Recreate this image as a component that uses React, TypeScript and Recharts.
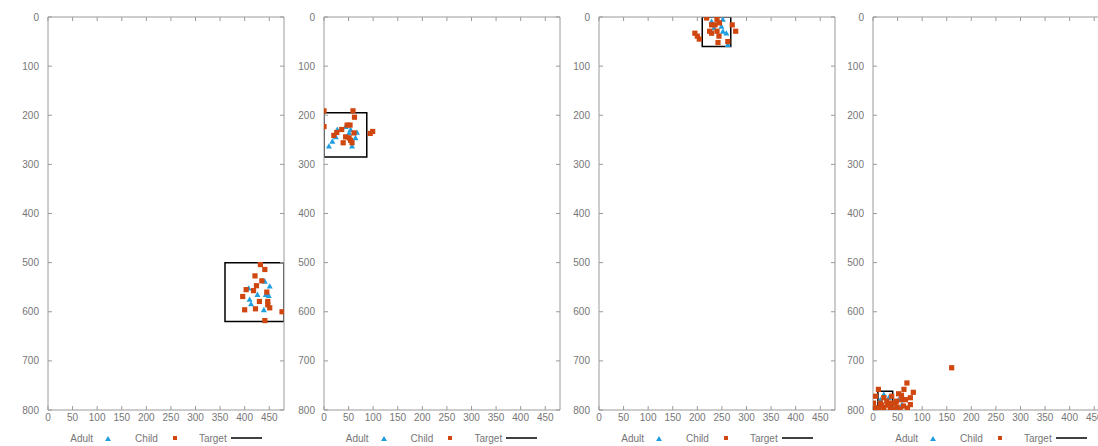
import React from "react"
import { ScatterChart, Scatter, XAxis, YAxis, ReferenceArea, Legend } from "recharts"

type Pt = { x: number; y: number }
type Box = { x1: number; x2: number; y1: number; y2: number }

const ADULT = "#1f9fe0"
const CHILD = "#d0460f"
const AXIS = "#9a9a9a"
const TEXT = "#767676"

const xTicks = [0, 50, 100, 150, 200, 250, 300, 350, 400, 450]
const yTicks = [0, 100, 200, 300, 400, 500, 600, 700, 800]

const toPts = (rows: number[][]): Pt[] => rows.map(([x, y]) => ({ x, y }))

// panel 1
const adult1 = toPts([[441, 538], [451, 548], [408, 552], [426, 565], [443, 565], [449, 567], [410, 575], [413, 584], [439, 596]])
const child1 = toPts([[432, 504], [441, 514], [421, 527], [435, 537], [424, 547], [403, 555], [418, 557], [396, 569], [445, 560], [447, 579], [430, 579], [447, 586], [451, 592], [422, 594], [400, 596], [441, 618], [476, 600]])

// panel 2
const adult2 = toPts([[44, 223], [54, 229], [67, 235], [27, 229], [24, 244], [17, 253], [10, 263], [51, 236], [64, 246], [57, 263]])
const child2 = toPts([[0, 191], [59, 191], [0, 223], [62, 204], [53, 220], [47, 220], [36, 229], [26, 235], [20, 241], [39, 256], [44, 244], [51, 246], [54, 251], [57, 256], [61, 236], [94, 237], [99, 233]])

// panel 3
const adult3 = toPts([[229, 9], [252, 5], [249, 19], [259, 33], [252, 29], [234, 22], [262, 56]])
const child3 = toPts([[219, 2], [240, 5], [236, 16], [229, 16], [225, 29], [240, 29], [229, 33], [195, 33], [200, 39], [204, 45], [244, 39], [242, 52], [262, 50], [271, 16], [278, 29], [245, 12]])

// panel 4
const adult4 = toPts([[22, 768], [32, 775], [52, 779], [59, 789], [15, 779], [45, 796]])
const child4 = toPts([[160, 714], [69, 745], [63, 758], [82, 764], [76, 775], [59, 779], [76, 789], [49, 794], [35, 796], [22, 796], [8, 796], [1, 786], [5, 772], [11, 758], [22, 775], [28, 782], [38, 772], [45, 786], [52, 767], [66, 779], [3, 796], [42, 798], [55, 798], [15, 786], [18, 790], [30, 790], [62, 792], [70, 796], [12, 798], [48, 782], [58, 770], [36, 786]])

const targets: Box[] = [
  { x1: 360, x2: 480, y1: 500, y2: 620 },
  { x1: 0, x2: 87, y1: 195, y2: 285 },
  { x1: 210, x2: 268, y1: 0, y2: 60 },
  { x1: 10, x2: 40, y1: 762, y2: 792 },
]

const panels = [
  { adult: adult1, child: child1, target: targets[0] },
  { adult: adult2, child: child2, target: targets[1] },
  { adult: adult3, child: child3, target: targets[2] },
  { adult: adult4, child: child4, target: targets[3] },
]

const lefts = [0, 275.5, 551, 825]

const Tri = (props: any) => {
  const { cx, cy } = props
  return <polygon points={`${cx},${cy - 3} ${cx + 3},${cy + 2.4} ${cx - 3},${cy + 2.4}`} fill={ADULT} />
}

const Sq = (props: any) => {
  const { cx, cy } = props
  return <rect x={cx - 2.6} y={cy - 2.6} width={5.2} height={5.2} fill={CHILD} />
}

function LegendRow() {
  return (
    <div style={{ display: "flex", justifyContent: "center", alignItems: "center", height: 16, fontSize: 10, color: TEXT }}>
      <span>Adult</span>
      <svg width={6} height={5} style={{ marginLeft: 12 }}>
        <polygon points="3,0 6,5 0,5" fill={ADULT} />
      </svg>
      <span style={{ marginLeft: 24 }}>Child</span>
      <svg width={4} height={4} style={{ marginLeft: 15 }}>
        <rect width={4} height={4} fill={CHILD} />
      </svg>
      <span style={{ marginLeft: 22 }}>Target</span>
      <svg width={31} height={2} style={{ marginLeft: 4 }}>
        <line x1={0} y1={1} x2={31} y2={1} stroke="#000" strokeWidth={1.5} />
      </svg>
    </div>
  )
}

export default function App() {
  const tick = { fill: TEXT, fontSize: 10 }
  return (
    <div
      style={{
        position: "fixed",
        left: 0,
        top: 0,
        width: 1098,
        height: 446,
        overflow: "hidden",
        background: "#fff",
        fontFamily: "'Liberation Sans', Arial, sans-serif",
      }}
    >
      {panels.map((p, i) => (
        <div key={i} style={{ position: "absolute", left: lefts[i], top: 0 }}>
          <ScatterChart width={290} height={446} margin={{ top: 16, right: 5, bottom: 0, left: 0 }}>
            <XAxis xAxisId="b" type="number" dataKey="x" domain={[0, 480]} ticks={xTicks} interval={0} allowDataOverflow
              height={20} tickSize={-4} tickMargin={8} stroke={AXIS} tick={tick} />
            <XAxis xAxisId="t" orientation="top" type="number" dataKey="x" domain={[0, 480]} ticks={xTicks} interval={0} allowDataOverflow
              height={1} tickSize={-4} tickMargin={0} stroke={AXIS} tickFormatter={() => ""} />
            <YAxis yAxisId="l" type="number" dataKey="y" domain={[0, 800]} reversed ticks={yTicks} interval={0} allowDataOverflow
              width={48} tickSize={-4} tickMargin={13} stroke={AXIS} tick={tick} />
            <YAxis yAxisId="r" orientation="right" type="number" dataKey="y" domain={[0, 800]} reversed ticks={yTicks} interval={0} allowDataOverflow
              width={1} tickSize={-4} tickMargin={0} stroke={AXIS} tickFormatter={() => ""} />
            <ReferenceArea xAxisId="b" yAxisId="l" x1={p.target.x1} x2={p.target.x2} y1={p.target.y1} y2={p.target.y2}
              ifOverflow="hidden" fill="none" fillOpacity={0} stroke="#000" strokeWidth={1.5} />
            <Scatter xAxisId="b" yAxisId="l" name="Adult" data={p.adult} fill={ADULT} shape={Tri} isAnimationActive={false} />
            <Scatter xAxisId="t" yAxisId="r" name="Child" data={p.child} fill={CHILD} shape={Sq} isAnimationActive={false} />
            <Legend verticalAlign="bottom" content={() => <LegendRow />} wrapperStyle={{ left: 48, width: 236 }} />
          </ScatterChart>
        </div>
      ))}
    </div>
  )
}
